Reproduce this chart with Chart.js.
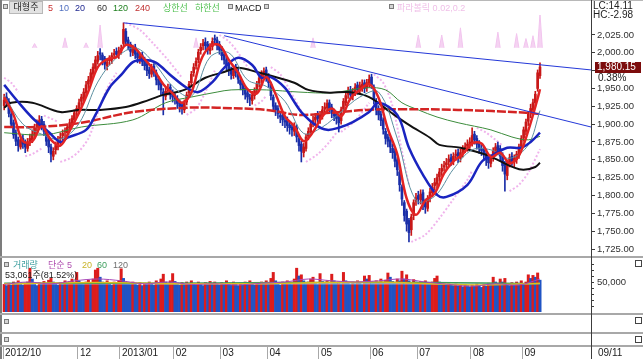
<!DOCTYPE html>
<html>
<head>
<meta charset="utf-8">
<script src="https://cdn.jsdelivr.net/npm/chart.js@4.4.0/dist/chart.umd.min.js"></script>
<style>
body{margin:0;background:#fff}
#wrap{position:relative;width:643px;height:359px;overflow:hidden;background:#fff;font-family:"Liberation Sans","Noto Sans CJK KR",sans-serif}
canvas{position:absolute;left:0}
.t{position:absolute;font-size:9px;line-height:10px;white-space:nowrap}
.ln{position:absolute;background:#a8a8a8}
.sq{position:absolute;width:3px;height:3px;border:1px solid #7a7a7a;background:#d4d4d4}
.ic{position:absolute;width:5px;height:5px;border:1px solid #444;background:#fff;font-size:0}
.btn{position:absolute;background:#e2e2e2;border:1px solid #b8b8b8;font-size:9px;line-height:11px;text-align:center;color:#222}
</style>
</head>
<body>
<div id="wrap">
  <canvas id="main" width="643" height="257" style="top:0"></canvas>
  <canvas id="vol" width="643" height="54" style="top:258px"></canvas>
  <canvas id="dates" width="643" height="26" style="top:333px"></canvas>

  <div class="ln" style="left:0;top:0;width:643px;height:1px;background:#b8b8b8"></div>
  <div class="ln" style="left:0;top:0;width:2px;height:359px;background:#7c7c7c"></div>
  <div class="ln" style="left:0;top:256px;width:643px;height:2px"></div>
  <div class="ln" style="left:0;top:313px;width:643px;height:2px"></div>
  <div class="ln" style="left:0;top:332px;width:643px;height:2px"></div>
  <div class="ln" style="left:0;top:345px;width:643px;height:2px"></div>
  <div class="ln" style="left:591px;top:0;width:1px;height:359px;background:#3c3c3c"></div>

  <div class="sq" style="left:3px;top:4px"></div>
  <div class="btn" style="left:9px;top:1px;width:32px;height:11px">대형주</div>
  <span class="t" style="left:48px;top:3px;color:#c83030">5</span>
  <span class="t" style="left:59px;top:3px;color:#5070c0">10</span>
  <span class="t" style="left:75px;top:3px;color:#202890">20</span>
  <span class="t" style="left:97px;top:3px;color:#303030">60</span>
  <span class="t" style="left:113px;top:3px;color:#208020">120</span>
  <span class="t" style="left:135px;top:3px;color:#c03030">240</span>
  <span class="t" style="left:163px;top:3px;color:#50c050">상한선</span>
  <span class="t" style="left:195px;top:3px;color:#50c050">하한선</span>
  <div class="sq" style="left:228px;top:4px"></div>
  <span class="t" style="left:235px;top:3px;color:#111">MACD</span>
  <div class="sq" style="left:264px;top:4px"></div>
  <div class="sq" style="left:389px;top:4px"></div>
  <span class="t" style="left:397px;top:3px;color:#f0c0e8">파라볼릭 0.02,0.2</span>
  <span class="t" style="left:593px;top:1px;font-size:10px;color:#222">LC:14.11</span>
  <span class="t" style="left:593px;top:10px;font-size:10px;color:#222">HC:-2.98</span>

  <div class="sq" style="left:4px;top:262px"></div>
  <span class="t" style="left:13px;top:260px;color:#40a0a0">거래량</span>
  <span class="t" style="left:48px;top:260px;color:#b050b0">단순 5</span>
  <span class="t" style="left:82px;top:260px;color:#c8b428">20</span>
  <span class="t" style="left:97px;top:260px;color:#40a060">60</span>
  <span class="t" style="left:113px;top:260px;color:#707070">120</span>
  <span class="t" style="left:5px;top:270px;color:#222">53,061주(81.52%)</span>
  <div class="ic" style="left:635px;top:260px"></div>

  <div class="sq" style="left:4px;top:319px"></div>
  <div class="ic" style="left:635px;top:317px"></div>
  <div class="sq" style="left:4px;top:337px"></div>
  <div class="ic" style="left:635px;top:336px"></div>
  <span class="t" style="left:598px;top:348px;font-size:10px;color:#222">09/11</span>
</div>

<script>
// 대형주 일봉 (2012/10 ~ 2013/09/11)
const opens = [1926,1938,1932,1914,1902,1888,1878,1868,1880,1874,
  1866,1874,1878,1885,1897,1898,1907,1900,1889,1878,
  1868,1855,1864,1868,1880,1884,1889,1888,1895,1900,
  1906,1918,1921,1932,1936,1944,1956,1960,1970,1978,
  1988,2000,1997,1992,1982,1989,1990,1997,2002,1997,
  2002,2013,2030,2018,2012,2000,2008,2000,1990,1997,
  1990,1984,1976,1970,1981,1972,1963,1957,1945,1939,
  1947,1952,1943,1938,1936,1930,1927,1920,1931,1944,
  1958,1972,1982,1990,2003,2010,2015,2012,2003,2009,
  2020,2018,2012,2005,1998,1990,1984,1976,1968,1980,
  1973,1962,1957,1950,1944,1937,1933,1940,1948,1957,
  1964,1972,1976,1967,1956,1938,1926,1922,1912,1913,
  1905,1906,1899,1896,1890,1895,1880,1872,1860,1866,
  1883,1889,1902,1906,1913,1906,1912,1921,1923,1930,
  1924,1917,1914,1910,1905,1921,1930,1942,1948,1940,
  1945,1955,1947,1952,1958,1951,1957,1966,1952,1932,
  1922,1914,1906,1890,1882,1878,1866,1862,1850,1833,
  1812,1790,1778,1765,1752,1772,1792,1800,1794,1804,
  1790,1782,1797,1804,1814,1816,1826,1834,1840,1843,
  1847,1853,1849,1856,1860,1852,1860,1866,1869,1871,
  1874,1886,1880,1873,1866,1864,1859,1852,1845,1853,
  1860,1870,1866,1856,1845,1828,1846,1855,1847,1850,
  1857,1869,1881,1890,1904,1915,1920,1930,1950,1968];
const highs = [1942,1944,1936,1918,1906,1892,1882,1884,1885,1878,
  1880,1886,1892,1900,1906,1912,1911,1904,1893,1882,
  1872,1867,1875,1883,1888,1892,1895,1900,1907,1912,
  1920,1926,1935,1942,1950,1960,1967,1977,1985,1995,
  2002,2006,2000,1995,1992,1996,2000,2005,2007,2008,
  2011,2042,2034,2022,2015,2011,2012,2004,2000,2001,
  1994,1987,1980,1984,1985,1976,1967,1961,1950,1951,
  1956,1956,1948,1943,1940,1934,1931,1934,1945,1960,
  1974,1985,1993,2005,2013,2019,2021,2016,2013,2021,
  2025,2022,2016,2009,2002,1994,1987,1980,1982,1984,
  1977,1966,1960,1954,1948,1942,1946,1951,1960,1969,
  1975,1979,1980,1971,1959,1941,1930,1926,1917,1916,
  1910,1910,1903,1901,1902,1899,1884,1876,1873,1886,
  1895,1904,1911,1915,1918,1918,1925,1930,1934,1934,
  1928,1921,1918,1913,1924,1936,1945,1952,1953,1950,
  1957,1959,1959,1962,1962,1963,1969,1970,1955,1936,
  1926,1918,1909,1894,1886,1882,1872,1865,1853,1836,
  1815,1793,1781,1768,1774,1794,1803,1806,1808,1808,
  1795,1800,1810,1817,1824,1830,1838,1844,1848,1852,
  1857,1858,1860,1864,1865,1865,1870,1874,1878,1881,
  1895,1890,1884,1877,1871,1868,1862,1856,1857,1867,
  1873,1875,1870,1860,1848,1850,1858,1860,1857,1862,
  1872,1884,1896,1907,1918,1928,1935,1946,1976,1986];
const lows = [1920,1925,1910,1895,1880,1870,1862,1865,1866,1860,
  1862,1870,1874,1880,1890,1894,1892,1884,1870,1860,
  1847,1850,1858,1864,1872,1878,1880,1884,1890,1896,
  1902,1910,1917,1926,1932,1940,1950,1956,1966,1974,
  1984,1990,1983,1977,1976,1983,1985,1992,1993,1992,
  1998,2010,2011,2004,1995,1996,1992,1986,1985,1982,
  1976,1968,1964,1966,1967,1955,1948,1940,1913,1934,
  1941,1935,1931,1928,1922,1917,1914,1916,1927,1940,
  1954,1967,1977,1986,1998,2004,2004,1998,1998,2004,
  2012,2004,1998,1990,1984,1976,1968,1963,1964,1966,
  1957,1948,1941,1935,1930,1926,1928,1935,1944,1952,
  1958,1966,1960,1951,1934,1918,1912,1908,1902,1898,
  1895,1890,1886,1883,1884,1875,1862,1847,1854,1862,
  1878,1885,1896,1900,1902,1901,1907,1915,1918,1916,
  1909,1905,1900,1889,1900,1917,1926,1936,1934,1934,
  1940,1942,1942,1946,1944,1946,1952,1950,1928,1913,
  1906,1898,1886,1872,1868,1860,1852,1840,1828,1806,
  1786,1764,1750,1735,1744,1766,1786,1788,1788,1780,
  1775,1778,1791,1798,1808,1811,1820,1828,1834,1837,
  1841,1842,1843,1849,1846,1847,1854,1860,1862,1866,
  1869,1872,1865,1859,1856,1850,1842,1838,1840,1848,
  1855,1857,1848,1834,1806,1822,1840,1842,1840,1845,
  1852,1864,1876,1885,1898,1909,1915,1925,1946,1964];
const closes = [1934,1930,1915,1900,1885,1876,1870,1878,1872,1868,
  1875,1880,1886,1895,1900,1905,1898,1890,1876,1868,
  1858,1862,1870,1878,1882,1887,1890,1896,1902,1908,
  1916,1922,1930,1938,1945,1955,1962,1972,1980,1990,
  1996,1998,1990,1984,1987,1991,1996,1999,1998,2003,
  2006,2033,2016,2010,2002,2006,1998,1993,1995,1988,
  1982,1975,1971,1979,1973,1962,1955,1948,1941,1946,
  1950,1941,1938,1935,1929,1925,1922,1930,1941,1956,
  1970,1980,1988,2001,2008,2013,2010,2004,2008,2016,
  2018,2010,2004,1996,1990,1983,1975,1970,1978,1972,
  1963,1955,1948,1942,1938,1935,1941,1947,1956,1965,
  1970,1974,1966,1958,1940,1925,1920,1915,1910,1906,
  1903,1898,1895,1892,1897,1882,1870,1862,1868,1882,
  1890,1900,1905,1910,1908,1913,1920,1924,1929,1922,
  1915,1912,1908,1902,1920,1932,1940,1946,1941,1944,
  1952,1948,1954,1956,1950,1958,1963,1955,1935,1920,
  1913,1905,1893,1880,1876,1868,1860,1848,1836,1815,
  1795,1772,1760,1748,1770,1790,1797,1795,1802,1788,
  1784,1796,1805,1812,1818,1825,1833,1838,1842,1846,
  1851,1848,1855,1858,1853,1860,1865,1868,1872,1875,
  1884,1878,1872,1866,1863,1858,1850,1846,1852,1862,
  1868,1864,1855,1842,1830,1846,1853,1848,1852,1858,
  1868,1880,1892,1903,1914,1922,1930,1942,1972,1980.15];
const lastChangePct = 0.38;

// 거래량 (천주)
const volumes = [46,44,48,45,50,47,52,49,45,48,
  50,73,55,47,44,49,46,51,48,53,
  56,50,47,45,49,46,52,48,51,55,
  50,66,52,48,46,50,53,49,55,70,
  73,58,50,47,52,48,45,50,47,52,
  72,56,50,48,46,50,47,45,49,44,
  48,46,50,47,45,52,49,55,63,50,
  47,52,64,51,48,45,49,46,50,47,
  52,48,45,50,47,44,49,46,51,48,
  50,47,45,49,46,52,48,45,50,47,
  44,48,45,50,47,52,48,45,49,46,
  50,47,52,49,56,66,52,48,45,50,
  47,52,49,46,55,73,60,62,52,48,
  50,55,58,49,46,64,51,48,52,47,
  63,52,48,50,47,66,52,49,46,50,
  47,52,49,46,60,55,61,50,48,52,
  49,55,50,53,65,58,51,49,55,52,
  68,55,62,52,48,54,50,47,51,46,
  52,49,47,50,56,60,50,47,49,45,
  48,46,44,47,43,45,42,46,44,42,
  45,43,47,44,41,46,43,48,45,58,
  50,47,55,50,56,47,44,49,46,50,
  48,52,47,50,62,56,61,58,65.09,53.061];

// 이동평균선 (그림에서 읽은 값, 일자 인덱스 / 값)
const ma5Idx = [0,4,8,12,16,20,24,28,32,36,40,44,48,52,56,60,64,68,72,76,80,84,88,92,96,100,104,108,112,116,
  120,124,128,132,136,140,144,148,152,156,160,164,168,172,176,180,184,188,192,196,200,204,208,212,216,220,224,228,229];
const ma5Val = [1938,1913,1876,1876,1897,1878,1870,1891,1916,1946,1980,1991,1994,2011,2006,1991,1976,1956,1943,1930,
  1944,1989,2009,2011,1990,1972,1949,1943,1966,1942,1911,1897,1876,1889,1911,1922,1911,1936,1948,1956,
  1937,1893,1858,1796,1773,1793,1803,1831,1848,1858,1873,1873,1854,1860,1845,1856,1891,1936,1949];
const ma10Idx = [0,8,16,24,32,40,48,56,64,72,80,88,96,104,112,120,128,136,144,152,160,168,176,184,192,200,208,216,224,229];
const ma10Val = [1940,1900,1886,1879,1901,1959,1993,2007,1986,1953,1939,1994,2000,1962,1953,1932,1887,1896,1917,1938,
  1945,1880,1793,1799,1837,1864,1864,1852,1871,1919];
const ma20Idx = [0,6,12,19,24,27,35,39,45,50,55,60,65,71,78,83,89,94,100,106,110,114,120,124,127,133,138,143,149,156,
  160,168,173,179,185,189,198,204,209,215,221,225,229];
const ma20Val = [1955,1931,1909,1889,1875,1881,1892,1913,1951,1969,1987,1990,1986,1969,1951,1945,1959,1979,1993,1983,
  1965,1966,1951,1931,1917,1899,1892,1895,1903,1917,1930,1913,1867,1829,1801,1798,1815,1847,1857,1867,1867,1875,1888];
const ma60Idx = [0,3,12,24,32,41,52,62,68,77,86,94,100,108,117,124,130,139,147,156,165,173,182,186,195,206,218,222,227,229];
const ma60Val = [1923,1930,1930,1917,1920,1920,1924,1934,1941,1948,1965,1973,1979,1973,1965,1958,1948,1944,1945,1938,
  1917,1899,1881,1871,1867,1857,1839,1836,1840,1846];
const ma120Idx = [0,17,33,55,69,80,91,97,112,126,140,155,163,170,177,185,194,208,217,224,229];
const ma120Val = [1888,1885,1896,1906,1930,1938,1945,1948,1948,1945,1944,1951,1948,1930,1920,1910,1902,1892,1882,1878,1883];
const ma240Idx = [0,14,33,55,78,91,112,126,140,155,169,194,223,229];
const ma240Val = [1896,1896,1902,1917,1923,1923,1920,1913,1916,1920,1921,1920,1916,1914];

// 파라볼릭 SAR (null = 추세 전환)
const sarIdx = [0,3,6,7, 9,12,16,17, 17,20,23,24, 24,28,32,36,40,44,48,49, 52,58,64,70,76,77, 78,82,86,90,91,
  92,96,100,105,106, 107,110,112,113, 114,118,122,127,128, 129,134,139,142,143, 144,150,156,157,
  158,162,166,170,173,174, 174,180,186,192,198,200,201, 202,206,210,213,214, 216,220,224,229];
const sarVal = [1965,1958,1945,null, 1855,1858,1866,null, 1912,1908,1903,null, 1847,1852,1862,1880,1915,1950,1972,null,
  2042,2032,2012,1990,1965,null, 1913,1922,1945,1975,null, 2025,2016,2000,1975,null, 1926,1932,1940,null,
  1980,1970,1948,1918,null, 1847,1858,1875,1888,null, 1889,1905,1930,null, 1970,1958,1925,1862,1815,null,
  1735,1745,1768,1795,1822,1835,null, 1895,1888,1878,1870,null, 1806,1815,1832,1865];

// 상단 보조지표 스파이크
const spikeBase = 2007;
const spikeIdx = [13,26,35,41,82,132,177,187,195,211,219,223,226,229];
const spikeTop = [2013,2021,2014,2039,2021,2021,2025,2025,2035,2029,2027,2020,2024,2055];

// 추세선 (시작/끝)
const trend1Idx = [51, 250.8], trend1Val = [2042, 1976];
const trend2Idx = [94, 250.8], trend2Val = [2024, 1896];

// 거래량 이동평균
const vma5Idx = [0,10,20,30,40,50,60,70,80,90,100,110,120,130,140,150,160,170,180,190,200,210,220,229];
const vma5Val = [46,50,47,52,55,52,47,50,46,47,45,48,50,55,52,50,52,55,50,46,43,47,45,55];
const vma20Idx = [0,40,80,120,160,200,229];
const vma20Val = [47,49,47,48,50,45,48];
const vma60Idx = [0,60,120,180,229];
const vma60Val = [48,48,49,49,47];
const vma120Idx = [0,229];
const vma120Val = [47,47];

const priceTicks = [1725,1750,1775,1800,1825,1850,1875,1900,1925,1950,1975,2000,2025];
const volTicks = [10,20,30,40,50,60,70,80];
const monthIdx = [0,32,50,73,93,113,135,157,177,200,222];
const monthLabels = ['2012/10','12','2013/01','02','03','04','05','06','07','08','09'];

const X_MIN = -0.93, X_MAX = 250.8;
const UP = '#c81818', DOWN = '#1a2ea8';

Chart.defaults.font.family = '"Liberation Sans", Arial, sans-serif';
Chart.defaults.font.size = 10;

function pts(idx, val) {
  return idx.map((x, k) => ({ x: x, y: val[k] }));
}
function lineDs(idx, val, color, width, order, extra) {
  return Object.assign({
    type: 'line', data: pts(idx, val), borderColor: color, borderWidth: width,
    pointRadius: 0, tension: 0.35, order: order, spanGaps: false
  }, extra || {});
}
function fmt(v) {
  return v.toLocaleString('en-US', { minimumFractionDigits: 2, maximumFractionDigits: 2 });
}
// 축 라벨 때문에 플롯 영역이 줄어들지 않게
function fixRightAxis(s) {
  s.width = 52;
  s.paddingTop = 0;
  s.paddingBottom = 0;
}

const candleColors = closes.map((c, i) => c >= opens[i] ? UP : DOWN);

const spikeData = [];
spikeIdx.forEach((i, k) => {
  spikeData.push({ x: i - 1, y: spikeBase }, { x: i, y: spikeTop[k] }, { x: i + 1, y: spikeBase }, { x: i + 1, y: null });
});

const priceTag = {
  id: 'priceTag',
  afterDraw(chart) {
    const ctx = chart.ctx, y = chart.scales.y;
    const last = closes[closes.length - 1];
    const py = Math.round(y.getPixelForValue(last));
    const x0 = chart.chartArea.right + 4;
    ctx.save();
    ctx.fillStyle = '#7c0c0c';
    ctx.fillRect(x0, py - 5, 46, 11);
    ctx.font = '10px "Liberation Sans"';
    ctx.textBaseline = 'middle';
    ctx.fillStyle = '#fff';
    ctx.fillText(fmt(last), x0 + 2, py + 0.5);
    ctx.fillStyle = '#222';
    ctx.fillText(lastChangePct.toFixed(2) + '%', x0 + 3, py + 11);
    ctx.restore();
  }
};

new Chart(document.getElementById('main'), {
  type: 'bar',
  data: {
    datasets: [
      lineDs(trend1Idx, trend1Val, '#2438d8', 1, 0, { tension: 0 }),
      lineDs(trend2Idx, trend2Val, '#2438d8', 1, 0, { tension: 0 }),
      lineDs(ma5Idx, ma5Val, '#e22424', 2.5, 1),
      lineDs(ma20Idx, ma20Val, '#1a24c0', 2.5, 2),
      lineDs(ma10Idx, ma10Val, '#5c8fa0', 1, 3),
      lineDs(ma60Idx, ma60Val, '#111111', 2, 4),
      lineDs(ma240Idx, ma240Val, '#d42424', 2.5, 5, { borderDash: [9, 2] }),
      lineDs(ma120Idx, ma120Val, '#3c8c3c', 1, 6),
      {
        type: 'bar', order: 7, grouped: false, barThickness: 2, minBarLength: 1,
        data: closes.map((c, i) => ({ x: i, y: [opens[i], c] })),
        backgroundColor: candleColors
      },
      {
        type: 'bar', order: 8, grouped: false, barThickness: 1,
        data: closes.map((c, i) => ({ x: i, y: [lows[i], highs[i]] })),
        backgroundColor: candleColors
      },
      lineDs(sarIdx, sarVal, '#f0b4ec', 2, 9, { borderDash: [2, 2], tension: 0.3 }),
      lineDs([], [], '#f2c4ee', 1, 10, {
        data: spikeData, tension: 0, fill: { value: spikeBase }, backgroundColor: 'rgba(242,196,238,0.75)'
      })
    ]
  },
  options: {
    responsive: false, animation: false, devicePixelRatio: 1,
    layout: { padding: { left: 2, top: 15, bottom: 1, right: 0 } },
    plugins: { legend: { display: false }, tooltip: { enabled: false } },
    scales: {
      x: { type: 'linear', min: X_MIN, max: X_MAX, offset: false, display: false },
      y: {
        position: 'right', min: 1715.2, max: 2053,
        afterFit: fixRightAxis,
        afterBuildTicks: s => { s.ticks = priceTicks.map(v => ({ value: v })); },
        grid: { drawOnChartArea: false, tickLength: 4, color: '#3c3c3c' },
        border: { color: '#3c3c3c' },
        ticks: {
          padding: 2, color: '#303030', font: { size: 9.5 }, autoSkip: false,
          callback: v => Math.abs(v - closes[closes.length - 1]) < 12 ? '' : fmt(v)
        }
      }
    }
  },
  plugins: [priceTag]
});

new Chart(document.getElementById('vol'), {
  type: 'bar',
  data: {
    datasets: [
      lineDs(vma5Idx, vma5Val, '#a848b8', 1, 1),
      lineDs(vma20Idx, vma20Val, '#d8c020', 1.5, 2),
      lineDs(vma60Idx, vma60Val, '#3a9a5a', 1.5, 3),
      lineDs(vma120Idx, vma120Val, '#e4e4e4', 1, 4),
      {
        type: 'bar', order: 5, grouped: false, barPercentage: 1, categoryPercentage: 1,
        data: volumes.map((v, i) => ({ x: i, y: v })),
        backgroundColor: volumes.map((v, i) => (i === 0 || v >= volumes[i - 1]) ? '#dc1c1c' : '#2054c4')
      }
    ]
  },
  options: {
    responsive: false, animation: false, devicePixelRatio: 1,
    layout: { padding: { left: 2, top: 0, bottom: 0, right: 0 } },
    plugins: { legend: { display: false }, tooltip: { enabled: false } },
    scales: {
      x: { type: 'linear', min: X_MIN, max: X_MAX, offset: false, display: false },
      y: {
        position: 'right', min: 0, max: 90,
        afterFit: fixRightAxis,
        afterBuildTicks: s => { s.ticks = volTicks.map(v => ({ value: v })); },
        grid: { drawOnChartArea: false, tickLength: 3, color: '#3c3c3c' },
        border: { color: '#3c3c3c' },
        ticks: {
          padding: 3, color: '#303030', font: { size: 9.5 }, autoSkip: false,
          callback: v => v === 50 ? '50,000' : ''
        }
      }
    }
  }
});

new Chart(document.getElementById('dates'), {
  type: 'line',
  data: { datasets: [{ data: [] }] },
  options: {
    responsive: false, animation: false, devicePixelRatio: 1,
    layout: { padding: { left: 2, top: 0, bottom: 0, right: 52 } },
    plugins: { legend: { display: false }, tooltip: { enabled: false } },
    scales: {
      x: {
        type: 'linear', min: X_MIN, max: X_MAX, offset: false,
        afterFit: s => { s.height = 13; },
        afterBuildTicks: s => { s.ticks = monthIdx.map(i => ({ value: i - 0.5 })); },
        grid: { drawOnChartArea: false, tickLength: 13, color: '#a8a8a8' },
        border: { display: false },
        ticks: {
          align: 'start', labelOffset: 2, padding: -12, color: '#202020', font: { size: 10 },
          maxRotation: 0, autoSkip: false,
          callback: (v, k) => monthLabels[k]
        }
      },
      y: { display: false, min: 0, max: 1 }
    }
  }
});
</script>
</body>
</html>
